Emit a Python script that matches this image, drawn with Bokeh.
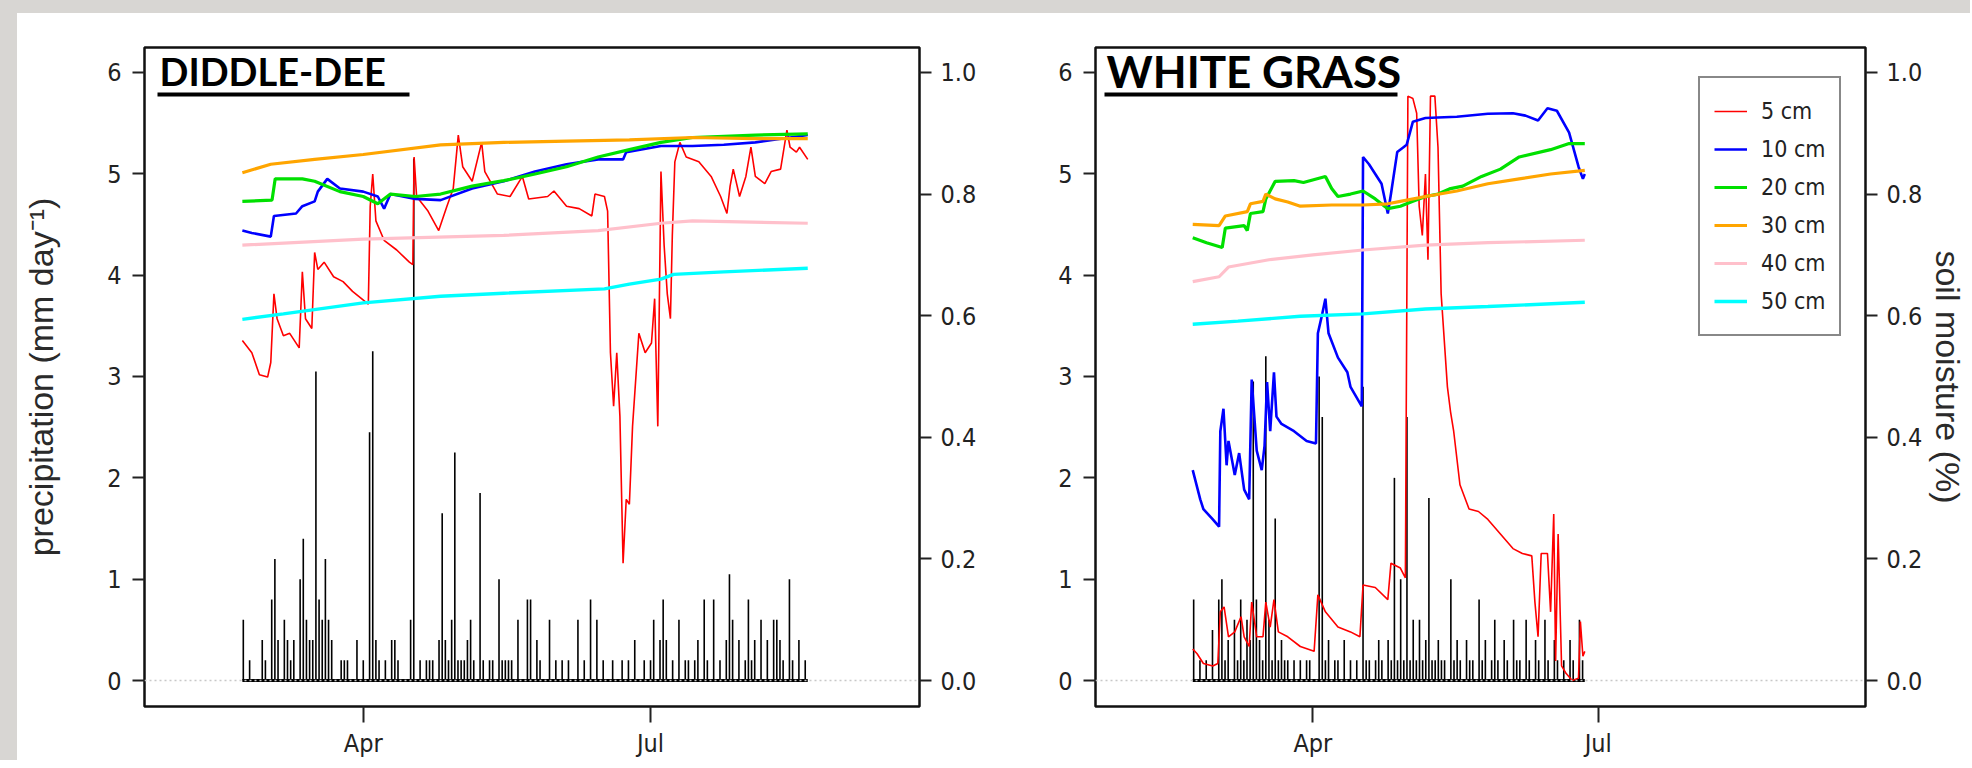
import numpy as np
import pandas as pd
from bokeh.plotting import figure
from bokeh.layouts import row, column
from bokeh.models import (Range1d, LinearAxis, FixedTicker, DatetimeTickFormatter,
                          PrintfTickFormatter, Span, Label, BoxAnnotation, Legend,
                          LegendItem, ColumnDataSource, Div)
from bokeh.embed import file_html
from bokeh.resources import INLINE

# ---------------- data (day of year 2014, volumetric soil moisture, rain mm/day) -------------
month_ticks = ["2014-04-01", "2014-07-01"]
precip_ticks = [0, 1, 2, 3, 4, 5, 6]
moist_ticks = [0.0, 0.2, 0.4, 0.6, 0.8, 1.0]
depth_labels = ["5 cm", "10 cm", "20 cm", "30 cm", "40 cm", "50 cm"]
depth_colors = ["#ff0000", "#0000ff", "#00e000", "#ffa500", "#ffc0cb", "#00ffff"]

# ---- DIDDLE-DEE ----
dd_red_doy = [52.7, 55.7, 58.1, 60.7, 61.7, 62.7, 63.7, 65.7, 67.7, 70.7, 71.7, 72.7, 74.7, 75.6,
              76.6, 78.6, 81.6, 84.6, 87.6, 92.6, 93.2, 94.0, 95.0, 97.6, 101.6, 105.6, 106.7,
              107.1, 107.9, 111.5, 114.9, 117.5, 119.5, 121.1, 122.5, 125.5, 128.5, 129.5, 133.5,
              137.5, 141.4, 143.4, 149.4, 151.4, 155.4, 159.4, 163.4, 164.4, 167.4, 168.4, 169.3,
              170.3, 171.3, 172.3, 173.3, 174.3, 175.3, 176.3, 178.3, 180.3, 182.3, 183.3, 184.3,
              185.3, 186.3, 187.3, 188.3, 188.9, 189.7, 191.3, 193.3, 197.3, 201.2, 204.2, 206.2,
              207.2, 208.2, 210.2, 212.2, 213.8, 215.2, 218.2, 220.2, 223.2, 225.2, 226.2, 228.2,
              229.2, 231.8]
dd_red_vwc = [0.559, 0.539, 0.503, 0.499, 0.523, 0.636, 0.595, 0.567, 0.571, 0.547, 0.672, 0.595,
              0.579, 0.704, 0.676, 0.688, 0.664, 0.656, 0.640, 0.619, 0.780, 0.833, 0.756, 0.724,
              0.708, 0.688, 0.684, 0.861, 0.796, 0.772, 0.740, 0.780, 0.809, 0.897, 0.845, 0.821,
              0.885, 0.837, 0.800, 0.796, 0.829, 0.792, 0.796, 0.805, 0.780, 0.776, 0.764, 0.800,
              0.796, 0.772, 0.539, 0.451, 0.539, 0.434, 0.193, 0.298, 0.290, 0.418, 0.571, 0.539,
              0.555, 0.628, 0.418, 0.837, 0.716, 0.636, 0.595, 0.732, 0.853, 0.885, 0.861, 0.853,
              0.829, 0.796, 0.768, 0.813, 0.841, 0.796, 0.829, 0.877, 0.829, 0.817, 0.837, 0.841,
              0.905, 0.877, 0.869, 0.877, 0.857]
dd_blue_doy = [52.7, 55.7, 61.7, 62.7, 69.7, 71.7, 75.6, 76.6, 79.6, 83.6, 91.0, 95.6, 97.6, 99.6,
               107.5, 115.5, 125.5, 135.5, 145.4, 155.4, 165.4, 173.3, 174.3, 185.3, 195.3, 205.2,
               215.2, 231.8]
dd_blue_vwc = [0.740, 0.736, 0.730, 0.764, 0.768, 0.780, 0.788, 0.804, 0.825, 0.809, 0.804, 0.796,
               0.776, 0.800, 0.792, 0.790, 0.809, 0.821, 0.837, 0.849, 0.857, 0.857, 0.869, 0.879,
               0.879, 0.881, 0.885, 0.897]
dd_green_doy = [52.7, 62.1, 63.1, 71.7, 75.6, 83.6, 91.0, 95.6, 99.6, 107.5, 115.5, 125.5, 135.5,
                145.4, 155.4, 165.4, 175.3, 185.3, 195.3, 215.2, 231.8]
dd_green_vwc = [0.788, 0.790, 0.825, 0.825, 0.821, 0.804, 0.796, 0.784, 0.800, 0.796, 0.800, 0.813,
                0.822, 0.833, 0.845, 0.861, 0.873, 0.885, 0.893, 0.897, 0.899]
dd_orange_doy = [52.7, 61.7, 75.6, 91.0, 115.5, 135.5, 155.4, 175.3, 195.3, 215.2, 231.8]
dd_orange_vwc = [0.835, 0.849, 0.857, 0.865, 0.881, 0.885, 0.887, 0.889, 0.893, 0.891, 0.891]
dd_pink_doy = [52.7, 91.0, 135.5, 165.4, 185.3, 195.3, 231.8]
dd_pink_vwc = [0.716, 0.726, 0.732, 0.740, 0.752, 0.756, 0.752]
dd_cyan_doy = [52.7, 65.7, 91.0, 115.5, 135.5, 167.4, 175.3, 185.3, 189.3, 205.2, 231.8]
dd_cyan_vwc = [0.594, 0.603, 0.621, 0.632, 0.637, 0.644, 0.652, 0.660, 0.668, 0.672, 0.678]

dd_rain_doy = [53, 55, 59, 60, 62, 63, 64, 66, 67, 68, 69, 71, 72, 73, 74, 75, 76, 77, 78, 79, 80,
               81, 84, 85, 86, 89, 91, 93, 94, 95, 96, 98, 100, 101, 102, 106, 107, 109, 111, 112,
               113, 115, 116, 117, 118, 119, 120, 121, 122, 123, 124, 125, 126, 128, 129, 131, 132,
               134, 135, 136, 137, 138, 140, 143, 144, 146, 147, 150, 152, 154, 156, 159, 161, 163,
               165, 167, 170, 173, 175, 177, 180, 182, 183, 185, 186, 187, 189, 191, 193, 194, 196,
               197, 199, 200, 202, 204, 206, 207, 208, 210, 212, 213, 214, 215, 217, 219, 221, 222,
               223, 224, 226, 227, 229, 231]
dd_rain_mm = [0.6, 0.2, 0.4, 0.2, 0.8, 1.2, 0.4, 0.6, 0.4, 0.2, 0.4, 1.0, 1.4, 0.6, 0.4, 0.4, 3.05,
              0.8, 0.6, 1.2, 0.6, 0.4, 0.2, 0.2, 0.2, 0.4, 0.2, 2.45, 3.25, 0.4, 0.2, 0.2, 0.4, 0.4,
              0.2, 0.6, 5.15, 0.2, 0.2, 0.2, 0.2, 0.4, 1.65, 0.4, 0.2, 0.6, 2.25, 0.2, 0.2, 0.2, 0.4,
              0.6, 0.2, 1.85, 0.2, 0.2, 0.2, 1.0, 0.2, 0.2, 0.2, 0.2, 0.6, 0.8, 0.8, 0.4, 0.2, 0.6,
              0.2, 0.2, 0.2, 0.6, 0.2, 0.8, 0.6, 0.2, 0.2, 0.2, 0.2, 0.4, 0.2, 0.2, 0.6, 0.4, 0.8,
              0.4, 0.2, 0.6, 0.2, 0.2, 0.2, 0.4, 0.8, 0.2, 0.8, 0.2, 0.4, 1.05, 0.6, 0.4, 0.2, 0.8,
              0.2, 0.4, 0.6, 0.4, 0.6, 0.6, 0.4, 0.2, 1.0, 0.2, 0.4, 0.2]

# ---- WHITE GRASS ----
wg_red_doy = [52.7, 54.1, 56.1, 59.1, 60.7, 61.5, 62.7, 64.1, 66.1, 68.1, 69.1, 70.7, 71.5, 73.1,
              75.1, 76.0, 77.4, 78.6, 80.0, 83.0, 87.0, 91.4, 92.6, 95.0, 99.0, 103.0, 106.0, 107.0,
              110.9, 114.9, 115.9, 118.9, 120.5, 121.3, 122.9, 124.1, 124.9, 125.9, 126.9, 127.7,
              128.5, 129.9, 130.9, 131.9, 133.9, 134.9, 135.9, 137.9, 140.8, 143.8, 146.8, 150.8,
              154.8, 157.8, 160.8, 161.8, 162.8, 163.8, 165.8, 166.8, 167.8, 168.4, 169.2, 170.3,
              171.7, 173.7, 175.7, 176.3, 177.1, 177.7]
wg_red_vwc = [0.052, 0.044, 0.028, 0.024, 0.028, 0.113, 0.121, 0.072, 0.080, 0.105, 0.072, 0.056,
              0.129, 0.072, 0.072, 0.129, 0.088, 0.133, 0.080, 0.072, 0.056, 0.048, 0.141, 0.113,
              0.088, 0.080, 0.072, 0.157, 0.153, 0.133, 0.193, 0.185, 0.169, 0.961, 0.957, 0.933,
              0.780, 0.732, 0.833, 0.692, 0.961, 0.961, 0.877, 0.636, 0.483, 0.442, 0.410, 0.322,
              0.282, 0.278, 0.265, 0.241, 0.217, 0.209, 0.205, 0.129, 0.072, 0.209, 0.209, 0.113,
              0.274, 0.032, 0.241, 0.024, 0.012, 0.000, 0.004, 0.097, 0.040, 0.048]
wg_blue_doy = [52.7, 55.1, 56.1, 59.1, 61.1, 61.5, 62.5, 63.5, 64.1, 66.1, 67.5, 69.1, 70.7, 71.5,
               73.1, 74.7, 75.6, 76.4, 77.4, 78.6, 79.4, 81.0, 85.0, 89.0, 92.0, 92.6, 94.0, 95.0,
               96.0, 99.0, 102.0, 103.0, 106.6, 107.0, 108.9, 110.9, 112.9, 114.9, 115.9, 117.9,
               119.9, 120.9, 122.9, 126.9, 136.9, 146.8, 154.8, 158.8, 162.8, 165.8, 168.8, 172.7,
               175.7, 177.1, 177.7]
wg_blue_vwc = [0.346, 0.298, 0.282, 0.265, 0.253, 0.410, 0.447, 0.354, 0.394, 0.338, 0.374, 0.314,
               0.298, 0.495, 0.378, 0.346, 0.386, 0.491, 0.410, 0.507, 0.434, 0.422, 0.410, 0.394,
               0.390, 0.571, 0.603, 0.628, 0.571, 0.531, 0.507, 0.483, 0.451, 0.861, 0.849, 0.833,
               0.817, 0.768, 0.800, 0.869, 0.877, 0.881, 0.919, 0.925, 0.927, 0.932, 0.933, 0.929,
               0.921, 0.941, 0.937, 0.901, 0.845, 0.825, 0.833]
wg_green_doy = [52.7, 57.1, 62.1, 63.1, 69.1, 70.1, 71.1, 75.1, 76.0, 79.0, 85.0, 88.0, 95.0, 97.0,
                99.0, 103.0, 107.0, 110.9, 114.9, 118.9, 122.9, 126.9, 130.9, 134.9, 138.8, 144.8,
                150.8, 156.8, 166.8, 172.7, 177.7]
wg_green_vwc = [0.728, 0.720, 0.712, 0.744, 0.748, 0.740, 0.768, 0.771, 0.792, 0.821, 0.822, 0.819,
                0.829, 0.809, 0.796, 0.800, 0.805, 0.792, 0.776, 0.780, 0.788, 0.796, 0.800, 0.809,
                0.813, 0.829, 0.841, 0.861, 0.873, 0.883, 0.883]
wg_orange_doy = [52.7, 61.1, 63.1, 70.1, 71.1, 75.1, 76.0, 79.0, 83.0, 87.0, 97.0, 107.0, 114.9,
                 118.9, 126.9, 136.9, 146.8, 156.8, 166.8, 177.7]
wg_orange_vwc = [0.750, 0.748, 0.764, 0.771, 0.784, 0.788, 0.800, 0.792, 0.787, 0.780, 0.782, 0.782,
                 0.784, 0.788, 0.796, 0.805, 0.817, 0.825, 0.833, 0.839]
wg_pink_doy = [52.7, 61.1, 64.1, 77.0, 91.0, 107.0, 126.9, 146.8, 177.7]
wg_pink_vwc = [0.656, 0.664, 0.680, 0.692, 0.700, 0.708, 0.716, 0.720, 0.724]
wg_cyan_doy = [52.7, 67.1, 87.0, 107.0, 126.9, 146.8, 177.7]
wg_cyan_vwc = [0.586, 0.591, 0.599, 0.603, 0.611, 0.615, 0.622]

wg_rain_doy = [53, 55, 57, 59, 61, 62, 63, 64, 66, 67, 68, 69, 70, 71, 72, 73, 74, 75, 76, 77, 78,
               79, 80, 81, 82, 83, 85, 87, 89, 90, 93, 94, 95, 96, 98, 99, 101, 103, 105, 107, 108,
               109, 111, 112, 113, 115, 116, 117, 118, 119, 120, 121, 122, 123, 124, 125, 126, 127,
               128, 129, 130, 131, 132, 133, 135, 136, 137, 138, 140, 141, 142, 144, 145, 146, 148,
               149, 150, 152, 153, 155, 156, 157, 159, 160, 162, 163, 165, 166, 168, 169, 171, 173,
               174, 176, 177]
wg_rain_mm = [0.8, 0.2, 0.2, 0.5, 0.8, 1.0, 0.2, 0.4, 0.6, 0.2, 0.8, 0.2, 0.6, 0.4, 2.95, 0.8, 0.4,
              0.2, 3.2, 0.6, 0.2, 1.6, 0.2, 0.4, 0.2, 0.2, 0.2, 0.2, 0.2, 0.2, 3.0, 2.6, 0.2, 0.4,
              0.2, 0.2, 0.4, 0.2, 0.2, 2.9, 0.2, 0.2, 0.2, 0.4, 0.2, 0.4, 0.2, 2.0, 0.2, 1.0, 0.2,
              2.6, 0.2, 0.6, 0.2, 0.6, 0.2, 0.4, 1.8, 0.2, 0.2, 0.4, 0.2, 0.2, 1.0, 0.2, 0.4, 0.2,
              0.4, 0.2, 0.2, 0.8, 0.2, 0.4, 0.2, 0.6, 0.2, 0.4, 0.2, 0.6, 0.2, 0.2, 0.6, 0.2, 0.4,
              0.2, 0.6, 0.2, 0.4, 0.2, 0.2, 0.4, 0.2, 0.6, 0.2]

# ---------------------------------------------------------------------------------------------
YEAR0 = pd.Timestamp("2014-01-01")


def to_dt(doy):
    return (YEAR0 + pd.to_timedelta(np.asarray(doy, dtype=float) - 1.0, unit="D"))


X_START = to_dt([21.7])[0].to_pydatetime()
X_END = to_dt([267.2])[0].to_pydatetime()
Y0, Y1 = -0.256, 6.246

TICKFONT = "DejaVu Sans Condensed, Liberation Sans"
TEXTC = "#222222"
BAND = "#d8d6d3"
TOP_BAND, LEFT_BAND = 13, 17
FIG_H = 747
MB_TOP, MB_BOT = 34, 53
FRAME_H = FIG_H - MB_TOP - MB_BOT


def make_panel(width, mb_left, mb_right, series, rain_doy, rain_mm, title, title_size,
               ul_left, ul_right, left_label, right_label, legend):
    p = figure(width=width, height=FIG_H, x_axis_type="datetime",
               x_range=Range1d(X_START, X_END), y_range=Range1d(Y0, Y1),
               output_backend="svg", toolbar_location=None,
               min_border_left=mb_left, min_border_right=mb_right,
               min_border_top=MB_TOP, min_border_bottom=MB_BOT)
    p.extra_y_ranges = {"moist": Range1d(Y0 / 6.0, Y1 / 6.0)}
    p.grid.visible = False
    p.outline_line_color = "#111111"
    p.outline_line_width = 2.5
    p.background_fill_color = "white"
    p.border_fill_color = "white"

    # zero reference line
    p.add_layout(Span(location=0, dimension="width", line_color="#c8c8c8",
                      line_dash="2 3", line_width=1.5))

    # precipitation bars
    rsrc = ColumnDataSource(dict(x=to_dt(rain_doy), top=rain_mm, base=[0.0] * len(rain_mm)))
    p.segment(x0="x", y0="base", x1="x", y1="top", source=rsrc,
              line_color="black", line_width=1.6)
    first_doy, last_doy = series[0][0][0], series[0][0][-1]
    p.line(x=to_dt([first_doy, last_doy]), y=[0.0, 0.0], line_color="black", line_width=3)

    # soil moisture lines
    widths = [1.6, 2.6, 3.2, 3.2, 3.2, 3.4]
    renderers = []
    for (doy, vwc), col, lw in zip(series, depth_colors, widths):
        r = p.line(x=to_dt(doy), y=vwc, y_range_name="moist", line_color=col, line_width=lw)
        renderers.append(r)

    # axes styling
    xa = p.xaxis[0]
    xa.ticker = FixedTicker(ticks=[pd.Timestamp(t).value // 10**6 for t in month_ticks])
    xa.formatter = DatetimeTickFormatter(months="%b", days="%b", years="%b", hours="%b")
    ya = p.yaxis[0]
    ya.ticker = FixedTicker(ticks=precip_ticks)
    ya.formatter = PrintfTickFormatter(format="%d")
    ra = LinearAxis(y_range_name="moist", ticker=FixedTicker(ticks=moist_ticks),
                    formatter=PrintfTickFormatter(format="%.1f"))
    p.add_layout(ra, "right")
    for ax in (xa, ya, ra):
        ax.axis_line_color = None
        ax.major_tick_line_color = TEXTC
        ax.major_tick_line_width = 2
        ax.major_tick_in = 0
        ax.minor_tick_line_color = None
        ax.major_label_text_font = TICKFONT
        ax.major_label_text_font_size = "25px"
        ax.major_label_text_color = TEXTC
        ax.axis_label_text_font = "Liberation Sans"
        ax.axis_label_text_font_style = "normal"
        ax.axis_label_text_font_size = "34px"
        ax.axis_label_text_color = "#2a2a2a"
    xa.major_tick_out = 16
    xa.major_label_standoff = 6
    ya.major_tick_out = 12
    ya.major_label_standoff = 11
    ra.major_tick_out = 12
    ra.major_label_standoff = 9
    if left_label:
        ya.axis_label = left_label
        ya.axis_label_standoff = 44
    if right_label:
        ra.axis_label = right_label
        ra.axis_label_standoff = 4

    # panel title with underline
    p.add_layout(Label(x=ul_left + 2, y=FRAME_H - 24, x_units="screen", y_units="screen",
                       text=title, text_font="Lato", text_font_style="bold",
                       text_font_size=title_size, text_color="black", text_baseline="middle"))
    p.add_layout(BoxAnnotation(left=ul_left, right=ul_right, bottom=FRAME_H - 50,
                               top=FRAME_H - 46, left_units="screen", right_units="screen",
                               bottom_units="screen", top_units="screen",
                               fill_color="black", fill_alpha=1.0, line_alpha=0))

    if legend:
        lg = Legend(items=[LegendItem(label=lab, renderers=[r])
                           for lab, r in zip(depth_labels, renderers)],
                    location=(603, 370))
        lg.border_line_color = "#111111"
        lg.border_line_width = 2
        lg.padding = 14
        lg.spacing = 0
        lg.label_height = 38
        lg.glyph_height = 38
        lg.glyph_width = 33
        lg.label_standoff = 14
        lg.label_text_font = TICKFONT
        lg.label_text_font_size = "23px"
        lg.label_text_color = TEXTC
        lg.background_fill_alpha = 1.0
        p.add_layout(lg)
    return p


dd_series = [(dd_red_doy, dd_red_vwc), (dd_blue_doy, dd_blue_vwc), (dd_green_doy, dd_green_vwc),
             (dd_orange_doy, dd_orange_vwc), (dd_pink_doy, dd_pink_vwc), (dd_cyan_doy, dd_cyan_vwc)]
wg_series = [(wg_red_doy, wg_red_vwc), (wg_blue_doy, wg_blue_vwc), (wg_green_doy, wg_green_vwc),
             (wg_orange_doy, wg_orange_vwc), (wg_pink_doy, wg_pink_vwc), (wg_cyan_doy, wg_cyan_vwc)]

p1 = make_panel(1000 - LEFT_BAND, 144 - LEFT_BAND, 81, dd_series, dd_rain_doy, dd_rain_mm,
                "DIDDLE-DEE", "38px", 13, 265, "precipitation (mm day\u207b\u00b9)", None, False)
p2 = make_panel(970, 95, 102, wg_series, wg_rain_doy, wg_rain_mm, "WHITE GRASS", "44px",
                9, 302, None, "soil moisture (%)", True)

top_band = Div(text="", width=1970, height=TOP_BAND, margin=0,
               styles={"background-color": BAND})
left_band = Div(text="", width=LEFT_BAND, height=FIG_H, margin=0,
                styles={"background-color": BAND})

layout = column(top_band, row(left_band, p1, p2, spacing=0), spacing=0)
open("out.html", "w").write(file_html(layout, INLINE))
